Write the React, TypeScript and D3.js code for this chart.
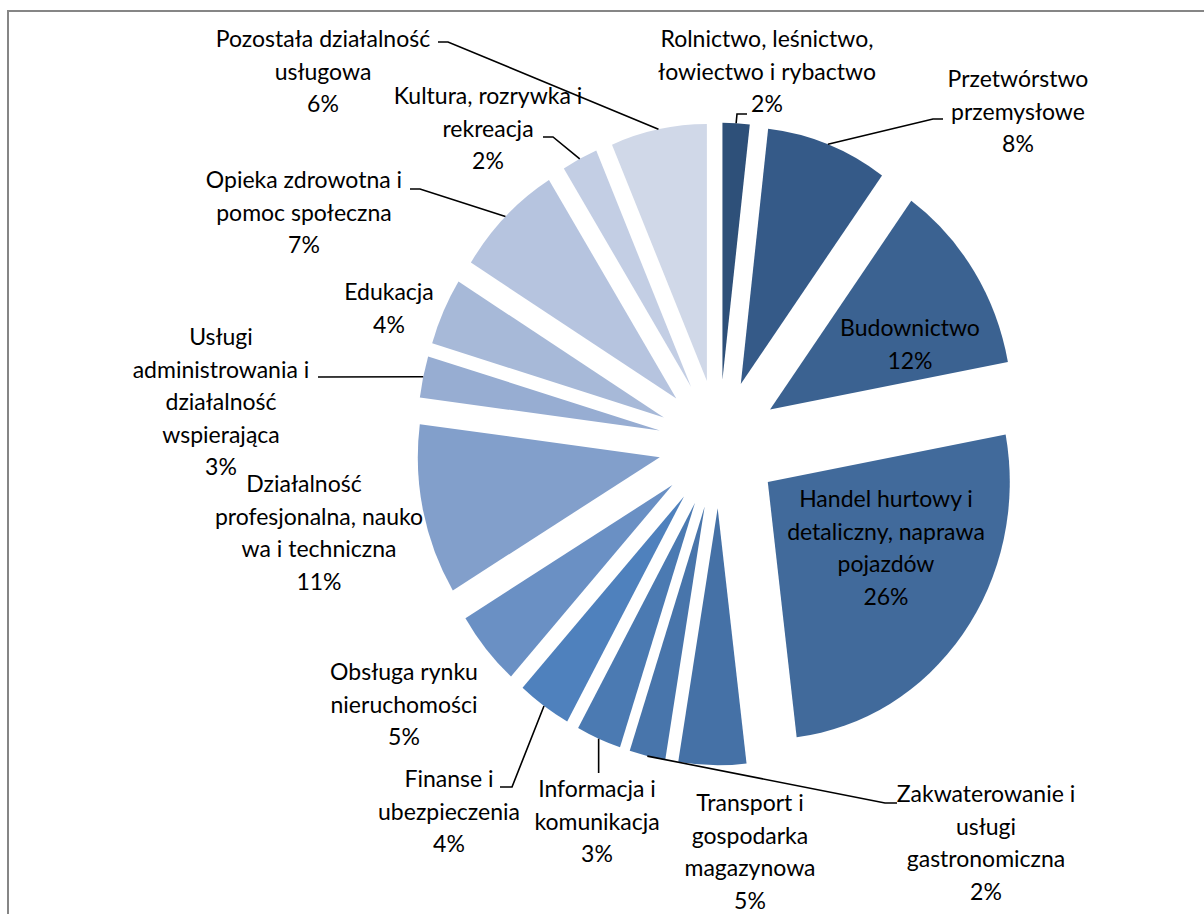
import React from "react";
import * as d3 from "d3";

// ---- data ----
const categories = [
  "Rolnictwo, leśnictwo, łowiectwo i rybactwo",
  "Przetwórstwo przemysłowe",
  "Budownictwo",
  "Handel hurtowy i detaliczny, naprawa pojazdów",
  "Transport i gospodarka magazynowa",
  "Zakwaterowanie i usługi gastronomiczna",
  "Informacja i komunikacja",
  "Finanse i ubezpieczenia",
  "Obsługa rynku nieruchomości",
  "Działalność profesjonalna, naukowa i techniczna",
  "Usługi administrowania i działalność wspierająca",
  "Edukacja",
  "Opieka zdrowotna i pomoc społeczna",
  "Kultura, rozrywka i rekreacja",
  "Pozostała działalność usługowa",
];
const values = [1.8, 8.1, 12.1, 26.0, 4.5, 2.4, 3.0, 3.6, 4.7, 10.7, 2.6, 4.2, 7.3, 2.4, 6.4];
const labelLines = [
  ["Rolnictwo, leśnictwo,", "łowiectwo i rybactwo"],
  ["Przetwórstwo", "przemysłowe"],
  ["Budownictwo"],
  ["Handel hurtowy i", "detaliczny, naprawa", "pojazdów"],
  ["Transport i", "gospodarka", "magazynowa"],
  ["Zakwaterowanie i", "usługi", "gastronomiczna"],
  ["Informacja i", "komunikacja"],
  ["Finanse i", "ubezpieczenia"],
  ["Obsługa rynku", "nieruchomości"],
  ["Działalność", "profesjonalna, nauko", "wa i techniczna"],
  ["Usługi", "administrowania i", "działalność", "wspierająca"],
  ["Edukacja"],
  ["Opieka zdrowotna i", "pomoc społeczna"],
  ["Kultura, rozrywka i", "rekreacja"],
  ["Pozostała działalność", "usługowa"],
];

// ---- styles / layout ----
const colors = [
  "#2e5079", "#355a88", "#3b6291", "#416a9b", "#4571a6", "#4875ab", "#4b7ab2",
  "#4f81bd", "#6a90c4", "#829fcb", "#97add2", "#a7b9d8", "#b6c4df", "#c3cee4", "#d0d8e8",
];
const W = 1204;
const H = 914;
const CX = 719;
const CY = 444;
const R = 257;
const SX = 242 / 257;
const EXPLODE = 0.25;
const LINE_STEP = 32.6;
const FONT = "Lato, 'Open Sans', sans-serif";
const FONT_SIZE = 23;

const labelLayout: { x: number; y: number; dx0?: number }[] = [
  { x: 767, y: 47 },
  { x: 1018, y: 87 },
  { x: 910, y: 336 },
  { x: 886, y: 507 },
  { x: 750, y: 811 },
  { x: 986, y: 802 },
  { x: 597, y: 797 },
  { x: 449, y: 787 },
  { x: 404, y: 680 },
  { x: 319, y: 492, dx0: -15 },
  { x: 221, y: 345 },
  { x: 389, y: 300 },
  { x: 304, y: 188 },
  { x: 488, y: 104 },
  { x: 323, y: 47 },
];
const leaders: (number[][] | null)[] = [
  [[737, 114], [747, 114]],
  [[933, 119], [943, 119]],
  null,
  null,
  null,
  [[885, 803], [897, 803]],
  [[null as any, 773]],
  [[512, 787], [500, 787]],
  null,
  null,
  [[318, 377]],
  null,
  [[420, 189], [410, 189]],
  [[553, 137], [543, 137]],
  [[448, 42], [438, 42]],
];

export default function App() {
  const total = d3.sum(values);
  const pie = d3.pie<number>().sort(null).value((d) => d).startAngle(0).endAngle(2 * Math.PI);
  const arcs = pie(values);
  const arcGen = d3.arc<d3.PieArcDatum<number>>().innerRadius(0).outerRadius(R);

  return (
    <svg width={W} height={H} style={{ position: "absolute", left: 0, top: 0 }}>
      <rect x={0} y={0} width={W} height={H} fill="#ffffff" />
      <path d={`M8,${H + 10} L8,11 L${W + 10},11`} fill="none" stroke="#868686" strokeWidth={2} />
      <g transform={`translate(${CX},${CY}) scale(${SX},1)`}>
        {arcs.map((a, i) => {
          const b = (a.startAngle + a.endAngle) / 2;
          const ox = EXPLODE * R * Math.sin(b);
          const oy = -EXPLODE * R * Math.cos(b);
          return (
            <path key={i} d={arcGen(a) || ""} fill={colors[i]} transform={`translate(${ox},${oy})`} />
          );
        })}
      </g>
      {arcs.map((a, i) => {
        const pts = leaders[i];
        if (!pts) return null;
        const b = (a.startAngle + a.endAngle) / 2;
        const rr = R * (1 + EXPLODE);
        const sx = CX + SX * rr * Math.sin(b);
        const sy = CY - rr * Math.cos(b);
        const all = [[sx, sy], ...pts.map((p) => [p[0] == null ? sx : p[0], p[1]])];
        const line = d3.line()(all as [number, number][]);
        return <path key={"l" + i} d={line || ""} fill="none" stroke="#000" strokeWidth={1.6} />;
      })}
      {arcs.map((a, i) => {
        const lay = labelLayout[i];
        const pct = Math.round((values[i] / total) * 100) + "%";
        const lines = [...labelLines[i], pct];
        return (
          <text
            key={"t" + i}
            fontFamily={FONT}
            fontSize={FONT_SIZE}
            fill="#000"
            textAnchor="middle"
          >
            {lines.map((ln, j) => (
              <tspan key={j} x={lay.x + (j === 0 && lay.dx0 ? lay.dx0 : 0)} y={lay.y + j * LINE_STEP}>
                {ln}
              </tspan>
            ))}
          </text>
        );
      })}
    </svg>
  );
}
